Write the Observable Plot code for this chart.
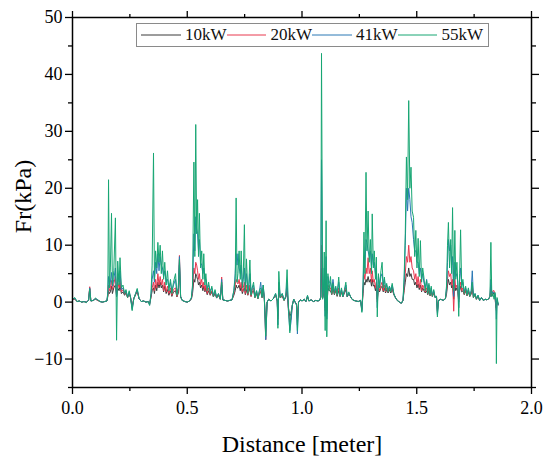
<!DOCTYPE html>
<html>
<head>
<meta charset="utf-8">
<script src="https://cdn.jsdelivr.net/npm/d3@7"></script>
<script src="https://cdn.jsdelivr.net/npm/@observablehq/plot@0.6"></script>
<style>
  html, body { margin: 0; padding: 0; background: #fff; }
  #wrap { position: relative; width: 550px; height: 464px; font-family: "Liberation Serif", "Times New Roman", serif; }
  #legend { position: absolute; left: 136px; top: 23px; width: 347px; height: 22px; border: 1px solid #8a8a8a; background: #fff; display: flex; align-items: center; padding-left: 4px; box-sizing: content-box; }
  #legend .item { display: flex; align-items: center; width: 85.5px; }
  #legend .item span { font-size: 17px; margin-left: 4px; color: #111; white-space: nowrap; }
</style>
</head>
<body>
<div id="wrap"></div>
<script>
const seriesNames = ["10kW", "20kW", "41kW", "55kW"];
const seriesColors = ["#3a3a3a", "#e8384f", "#2a78b5", "#17a673"];
const xMajorTicks = [0, 0.5, 1.0, 1.5, 2.0];
const xMinorTicks = [0.25, 0.75, 1.25, 1.75];
const yMajorTicks = [-10, 0, 10, 20, 30, 40, 50];
const yMinorTicks = [-15, -5, 5, 15, 25, 35, 45];

const distance = [
  0.00,0.01,0.02,0.03,0.04,0.05,0.06,0.07,0.075,0.08,0.09,0.10,0.11,0.12,0.13,0.14,0.15,
  0.154,0.157,0.161,0.165,0.170,0.174,0.180,0.187,0.192,0.197,0.203,0.207,0.213,0.220,0.227,0.233,0.240,0.247,0.253,0.260,0.267,0.275,0.282,0.290,0.300,0.310,0.320,0.330,0.336,
  0.342,0.347,0.353,0.357,0.362,0.367,0.372,0.377,0.382,0.387,0.392,0.397,0.402,0.408,0.414,0.420,0.427,0.433,0.440,0.449,0.455,0.461,0.466,0.471,0.478,0.490,0.500,0.510,0.518,
  0.523,0.529,0.533,0.537,0.541,0.545,0.549,0.553,0.558,0.563,0.568,0.572,0.577,0.581,0.587,0.593,0.600,0.607,0.614,0.621,0.628,0.636,0.644,0.650,0.655,0.665,0.675,0.685,0.695,
  0.703,0.709,0.713,0.717,0.721,0.726,0.731,0.735,0.740,0.744,0.749,0.753,0.758,0.764,0.768,0.773,0.778,0.783,0.789,0.795,0.802,0.808,0.815,0.820,0.826,0.831,0.836,0.842,0.848,0.855,0.865,
  0.875,0.885,0.892,0.895,0.899,0.905,0.914,0.922,0.929,0.935,0.941,0.947,0.952,0.958,0.964,0.970,0.976,0.980,0.985,0.993,1.000,1.010,1.017,1.024,1.030,1.040,1.050,1.060,1.070,1.078,
  1.082,1.085,1.090,1.094,1.097,1.101,1.105,1.108,1.113,1.118,1.124,1.130,1.135,1.141,1.147,1.153,1.160,1.166,1.172,1.178,1.185,1.191,1.197,1.204,1.211,1.218,1.226,1.235,1.245,1.255,1.261,
  1.266,1.270,1.274,1.279,1.283,1.288,1.293,1.298,1.303,1.306,1.311,1.315,1.320,1.324,1.328,1.333,1.338,1.344,1.349,1.354,1.359,1.364,1.369,1.375,1.381,1.387,1.393,1.400,1.407,1.415,1.425,1.433,1.440,
  1.445,1.450,1.455,1.460,1.465,1.470,1.475,1.480,1.486,1.491,1.496,1.501,1.506,1.511,1.516,1.521,1.526,1.531,1.537,1.543,1.548,1.553,1.558,1.563,1.568,1.574,1.580,1.586,1.590,1.595,1.605,1.615,1.625,
  1.630,1.634,1.638,1.643,1.648,1.652,1.656,1.661,1.666,1.670,1.675,1.679,1.683,1.687,1.691,1.696,1.701,1.707,1.713,1.719,1.725,1.731,1.737,1.742,1.747,1.754,1.760,1.767,1.774,1.782,1.790,1.798,1.806,1.814,1.819,
  1.823,1.827,1.832,1.837,1.841,1.845,1.847,1.850,1.855
];

const fr10 = [
  0.5,0.5,0.1,0.2,0.0,0.1,0.0,0.3,2.4,0.2,0.3,0.5,0.3,0.1,0.0,0.1,0.2,
  1.0,2.0,1.5,1.8,2.8,1.5,2.5,3.0,1.0,2.5,2.0,3.0,1.5,1.8,1.2,1.6,0.8,1.5,0.8,-0.8,0.6,1.3,1.9,0.6,0.1,0.2,0.0,0.1,-0.3,
  0.8,2.0,2.5,1.5,3.0,2.0,3.5,2.5,3.5,2.5,3.0,1.8,2.8,1.5,2.2,1.2,2.0,1.0,1.8,2.0,0.9,1.6,6.5,0.9,0.3,0.1,0.0,0.2,0.5,
  1.5,4.0,3.5,5.0,4.5,4.0,3.0,3.5,2.5,3.0,2.0,2.8,1.8,2.5,1.3,2.0,1.2,1.8,0.9,1.5,0.7,1.2,0.5,3.0,0.4,0.3,0.2,0.3,0.4,
  1.2,2.0,3.0,2.5,2.5,3.0,2.0,2.8,1.5,2.0,2.5,1.3,2.2,1.2,1.8,2.5,1.0,1.8,2.0,0.8,1.5,0.6,1.6,1.8,0.8,2.2,0.5,-4.0,0.0,0.5,0.2,
  0.6,1.2,0.2,-2.5,2.0,0.8,1.0,0.3,0.8,2.0,-1.0,-2.5,-2.0,-0.5,0.5,0.0,-0.3,-3.0,0.0,0.4,0.2,0.5,0.1,0.9,0.2,0.4,0.1,0.3,0.2,0.4,
  0.8,6.0,0.7,1.5,2.5,-1.0,3.0,-1.5,2.5,2.0,2.0,1.3,2.5,1.3,2.0,1.0,2.0,1.0,1.8,0.9,1.6,2.2,0.9,1.4,1.0,0.5,0.3,0.2,0.1,0.3,-1.2,
  1.5,3.5,3.0,4.0,3.5,4.5,3.5,4.0,2.8,4.0,2.8,3.0,2.0,2.8,0.5,2.5,1.8,2.5,2.8,1.8,2.5,1.6,2.2,1.6,2.2,1.6,2.3,1.3,0.8,0.3,0.0,-0.2,0.3,
  2.0,3.5,5.0,4.5,6.0,4.5,5.0,4.0,4.0,3.0,3.5,2.5,3.2,2.2,3.0,1.8,2.5,2.0,1.6,2.0,1.3,2.0,1.1,1.8,1.0,1.6,0.8,1.0,-1.5,0.3,0.5,0.3,0.6,
  1.5,3.0,4.0,3.0,3.5,2.5,3.0,0.5,3.0,2.0,2.5,1.8,0.5,2.0,2.8,1.8,2.0,1.3,2.0,1.1,1.8,1.0,1.4,2.5,0.8,1.3,0.5,1.0,0.3,0.8,0.3,0.5,0.4,0.6,1.0,
  2.0,1.0,1.5,1.5,0.8,-1.0,-1.0,0.2,-0.4
];

const fr20 = [
  0.5,0.6,0.1,0.2,0.0,0.1,0.0,0.3,2.7,0.2,0.3,0.6,0.3,0.1,0.0,0.1,0.2,
  1.2,3.0,2.0,2.5,3.8,2.2,3.2,4.5,1.2,3.5,2.5,4.0,1.8,2.2,1.4,1.8,0.8,1.6,0.8,-1.0,0.6,1.4,2.0,0.6,0.1,0.2,0.0,0.1,-0.4,
  1.0,2.5,3.5,2.0,4.0,2.5,5.0,3.0,4.5,3.0,4.0,2.0,3.5,1.8,2.8,1.5,2.5,1.2,2.2,2.5,1.0,2.0,8.2,1.0,0.3,0.1,0.0,0.2,0.6,
  2.0,6.0,5.0,7.0,6.5,5.5,4.0,5.0,3.0,4.0,2.5,3.5,2.0,3.0,1.5,2.5,1.3,2.0,1.0,1.8,0.8,1.3,0.5,4.4,0.4,0.3,0.2,0.3,0.4,
  1.5,3.0,4.0,3.5,3.2,4.0,2.5,3.5,1.8,2.5,3.5,1.5,3.0,1.3,2.0,3.0,1.0,2.0,2.5,0.8,1.8,0.6,1.8,2.0,0.8,2.5,0.5,-6.6,0.0,0.5,0.2,
  0.6,1.3,0.2,-3.0,2.5,0.8,1.2,0.3,0.9,2.5,-1.5,-3.5,-3.0,-0.5,0.5,0.0,-0.4,-4.0,0.0,0.4,0.2,0.5,0.1,1.0,0.2,0.4,0.1,0.3,0.2,0.4,
  0.9,10.0,0.8,2.0,3.5,-1.5,4.0,-2.0,3.0,2.5,2.5,1.5,3.5,1.5,2.2,1.2,2.5,1.0,2.0,1.0,1.8,2.5,1.0,1.5,1.0,0.5,0.3,0.2,0.1,0.3,-1.4,
  2.0,5.0,4.0,6.0,5.0,7.8,5.0,6.0,3.5,5.5,3.5,4.0,2.5,3.5,0.0,3.0,2.0,3.0,3.5,2.0,3.0,1.8,2.5,1.8,2.5,1.8,2.6,1.4,0.8,0.3,0.0,-0.2,0.3,
  2.5,5.0,8.0,7.0,10.0,7.0,8.0,6.0,5.5,4.0,5.0,3.0,4.5,2.5,4.0,2.0,3.0,2.5,1.8,2.5,1.5,2.5,1.2,2.0,1.0,1.8,0.8,1.0,-1.8,0.3,0.5,0.3,0.6,
  2.0,4.0,5.5,4.5,5.0,3.0,4.0,-1.6,4.0,2.5,3.0,2.0,0.0,2.5,3.5,2.0,2.5,1.4,2.2,1.2,2.0,1.0,1.6,3.0,0.8,1.4,0.5,1.1,0.3,0.8,0.3,0.5,0.4,0.6,1.0,
  3.0,1.2,2.0,2.0,1.0,-1.0,-1.5,0.3,-0.5
];

const fr41 = [
  0.5,0.7,0.1,0.2,0.0,0.1,0.0,0.3,2.5,0.2,0.3,0.6,0.4,0.1,0.0,0.1,0.2,
  1.8,4.5,2.8,3.5,5.2,2.8,4.0,6.0,1.0,5.0,3.5,5.5,2.2,2.5,1.5,2.0,0.9,1.8,0.8,-1.3,0.6,1.5,2.2,0.6,0.1,0.2,0.0,0.1,-0.5,
  1.2,4.0,5.5,3.5,7.0,5.0,8.5,5.5,8.0,6.5,6.0,4.5,5.5,3.5,4.0,2.5,3.5,1.8,3.0,4.0,1.5,2.5,8.0,1.0,0.3,0.1,0.0,0.2,0.7,
  2.5,12.0,9.0,15.0,13.0,12.0,9.0,11.0,7.0,6.5,5.0,6.0,4.0,4.0,2.5,3.0,2.0,2.5,1.2,2.0,0.8,1.5,0.6,4.0,0.4,0.3,0.2,0.3,0.4,
  2.0,5.0,8.5,6.5,8.5,6.0,5.0,6.5,3.0,4.0,6.0,2.5,5.0,2.0,2.5,5.0,1.5,2.5,3.0,1.0,2.0,0.8,2.0,3.5,1.0,3.0,0.6,-6.6,0.0,0.5,0.2,
  0.6,1.5,0.3,-4.0,3.5,1.0,1.5,0.4,1.0,3.5,-1.5,-5.0,-3.5,-0.5,0.5,0.0,-0.5,-5.6,0.0,0.4,0.2,0.5,0.1,1.1,0.2,0.4,0.1,0.3,0.2,0.4,
  1.0,25.0,0.8,2.5,6.0,-2.5,8.0,-3.0,4.5,3.5,3.5,2.0,4.0,1.8,2.5,1.5,3.5,1.2,2.2,1.0,2.0,3.0,1.0,1.6,1.0,0.5,0.3,0.2,0.1,0.3,-1.6,
  3.0,8.0,6.0,11.0,10.5,9.0,8.0,9.0,6.0,8.5,6.5,7.0,5.0,6.0,-1.0,4.5,3.0,4.5,5.0,3.0,4.0,2.5,3.0,2.0,2.8,2.0,3.0,1.5,0.8,0.3,0.0,-0.2,0.3,
  3.5,10.0,20.0,16.0,20.0,18.0,15.0,14.0,11.0,9.0,9.0,7.0,7.0,5.0,6.0,4.0,5.0,3.5,2.5,4.0,2.0,3.0,1.5,2.5,1.2,2.0,0.8,1.0,-2.2,0.3,0.5,0.3,0.6,
  2.5,7.0,11.0,9.0,10.0,6.5,8.0,1.0,7.0,4.5,5.0,3.5,-1.0,4.0,6.0,3.0,3.5,1.8,2.5,1.5,2.2,1.2,2.0,5.5,1.0,1.5,0.6,1.2,0.3,0.8,0.3,0.5,0.4,0.6,1.0,
  4.0,1.5,1.8,1.5,1.5,-0.5,-3.0,0.5,-0.5
];

const fr55 = [
  0.5,0.8,0.1,0.2,0.0,0.1,-0.1,0.3,2.3,0.2,0.3,0.7,0.4,0.1,0.0,0.1,0.2,
  1.5,21.5,2.5,6.0,15.6,3.0,5.5,14.8,-6.7,7.2,3.0,7.8,2.5,3.0,1.5,2.2,0.8,2.0,0.8,-1.5,0.6,1.5,2.4,0.6,0.1,0.2,0.0,0.1,-0.6,
  1.5,6.5,26.2,4.0,9.0,6.0,10.5,7.0,10.0,5.0,9.0,4.0,7.0,3.0,5.5,2.0,4.0,1.5,3.5,5.0,1.2,2.5,7.5,1.0,0.3,0.1,0.0,0.2,0.8,
  3.0,24.6,8.0,31.2,12.0,18.0,8.0,15.6,6.0,9.0,4.0,8.5,3.0,5.0,2.0,3.5,1.5,2.8,1.0,2.2,0.8,1.5,0.5,3.5,0.4,0.3,0.2,0.3,0.4,
  2.0,4.0,18.3,3.5,5.0,9.0,4.0,9.0,2.5,4.5,13.6,2.0,7.6,1.5,3.0,7.4,1.2,2.5,3.5,0.8,2.0,0.6,2.2,2.5,0.8,3.0,0.5,-6.0,0.0,0.5,0.2,
  0.6,1.5,0.2,-4.6,5.4,0.8,1.5,0.3,1.0,5.7,-1.0,-5.4,-2.0,-0.5,0.5,0.0,-0.5,-5.0,0.0,0.4,0.2,0.5,0.1,1.2,0.2,0.4,0.1,0.3,0.2,0.4,
  1.0,43.7,0.5,3.0,8.8,-5.0,14.3,-6.1,5.0,2.0,4.5,1.5,3.3,1.5,2.8,1.2,4.4,1.0,2.5,1.0,2.2,3.5,1.0,1.8,1.0,0.5,0.3,0.2,0.1,0.3,-1.8,
  3.0,12.3,5.0,22.8,9.0,16.0,7.0,11.0,5.0,15.5,6.0,9.0,4.0,7.9,-2.6,5.0,2.5,5.5,7.0,2.5,4.4,2.0,3.3,1.8,2.8,1.8,3.3,1.5,0.8,0.3,0.0,-0.2,0.3,
  4.4,12.0,25.5,18.0,35.4,20.0,23.7,16.0,14.9,8.0,12.6,6.0,11.2,4.5,10.8,3.5,6.0,4.4,2.0,3.8,1.5,3.3,1.2,2.8,1.0,2.2,0.8,1.0,-2.6,0.3,0.5,0.3,0.6,
  3.0,10.0,14.0,6.0,11.0,5.0,16.6,2.0,12.6,4.0,7.0,3.0,-2.5,5.0,12.7,2.5,4.0,1.5,2.8,1.2,2.5,1.0,1.8,3.5,0.8,1.5,0.5,1.2,0.3,0.8,0.3,0.5,0.4,0.6,1.0,
  10.5,1.0,1.5,0.5,1.7,0.5,-10.8,0.8,-0.3
];

const seriesValues = [fr10, fr20, fr41, fr55];

const lineMarks = seriesValues.map((vals, s) => {
  const n = Math.min(distance.length, vals.length);
  const rows = [];
  for (let i = 0; i < n; i++) rows.push({d: distance[i], v: vals[i]});
  return Plot.line(rows, {x: "d", y: "v", stroke: seriesColors[s], strokeWidth: 1});
});

const blank = () => "";
const chart = Plot.plot({
  width: 550,
  height: 464,
  marginLeft: 72,
  marginRight: 19,
  marginTop: 17,
  marginBottom: 77,
  style: {fontFamily: "'Liberation Serif', 'Times New Roman', serif", background: "#fff", color: "#000"},
  x: {domain: [0, 2], label: null},
  y: {domain: [-15, 50], label: null},
  marks: [
    ...lineMarks,
    Plot.frame({stroke: "#000", strokeWidth: 1.5}),
    Plot.axisX({anchor: "bottom", ticks: xMajorTicks, tickFormat: d3.format(".1f"), tickSize: 7, tickPadding: 7, fontSize: 18, strokeWidth: 1.3, label: null}),
    Plot.axisX({anchor: "bottom", ticks: xMinorTicks, tickFormat: blank, tickSize: 4, strokeWidth: 1.3, label: null}),
    Plot.axisX({anchor: "top", ticks: xMajorTicks, tickFormat: blank, tickSize: 7, strokeWidth: 1.3, label: null}),
    Plot.axisX({anchor: "top", ticks: xMinorTicks, tickFormat: blank, tickSize: 4, strokeWidth: 1.3, label: null}),
    Plot.axisY({anchor: "left", ticks: yMajorTicks, tickFormat: d3.format("d"), tickSize: 7, tickPadding: 3, fontSize: 18, strokeWidth: 1.3, label: null}),
    Plot.axisY({anchor: "left", ticks: yMinorTicks, tickFormat: blank, tickSize: 4, strokeWidth: 1.3, label: null}),
    Plot.axisY({anchor: "right", ticks: yMajorTicks, tickFormat: blank, tickSize: 7, strokeWidth: 1.3, label: null}),
    Plot.axisY({anchor: "right", ticks: yMinorTicks, tickFormat: blank, tickSize: 4, strokeWidth: 1.3, label: null}),
    Plot.text(["Fr(kPa)"], {frameAnchor: "left", dx: -49, dy: -6, rotate: -90, textAnchor: "middle", lineAnchor: "middle", fontSize: 24, fill: "#000"}),
    Plot.text(["Distance [meter]"], {frameAnchor: "bottom", dy: 57, textAnchor: "middle", lineAnchor: "middle", fontSize: 24, fill: "#000"})
  ]
});

const wrap = document.getElementById("wrap");
wrap.appendChild(chart);

const legend = document.createElement("div");
legend.id = "legend";
seriesNames.forEach((name, i) => {
  const item = document.createElement("div");
  item.className = "item";
  item.innerHTML = `<svg width="40" height="4"><line x1="0" y1="2" x2="40" y2="2" stroke="${seriesColors[i]}" stroke-width="1"/></svg><span>${name}</span>`;
  legend.appendChild(item);
});
wrap.appendChild(legend);
</script>
</body>
</html>
